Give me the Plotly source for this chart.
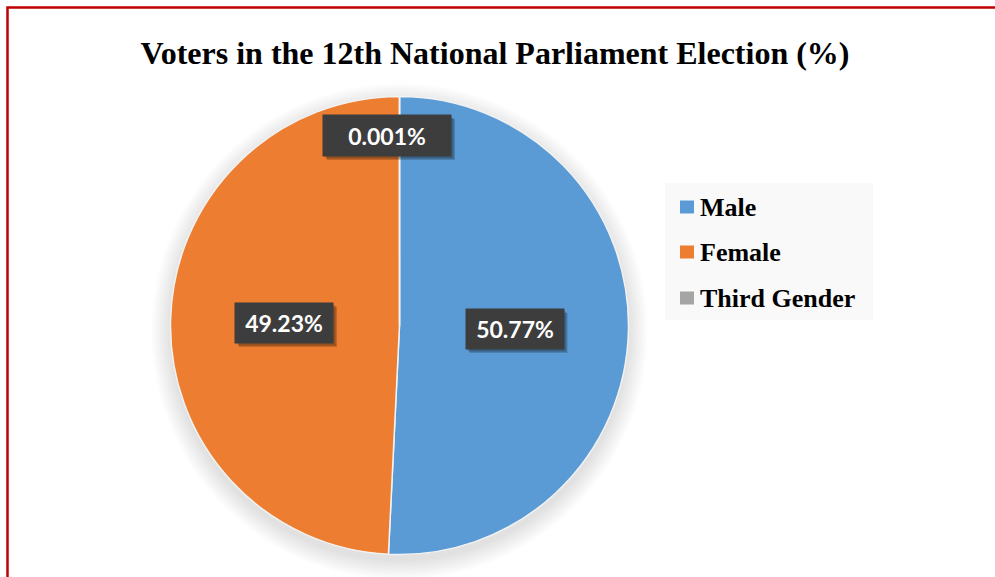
import plotly.graph_objects as go

# Voter shares by gender, 12th National Parliament Election
categories = ["Male", "Female", "Third Gender"]
shares = [50.77, 49.23, 0.001]
colors = ["#5B9BD5", "#ED7D31", "#A5A5A5"]

W, H = 995, 577


def fx(px):
    return px / W


def fy(py):
    return 1 - py / H


# pie geometry (pixels)
cx, cy, R = 399.5, 325.5, 229

fig = go.Figure()
fig.add_trace(go.Pie(
    labels=categories,
    values=shares,
    sort=False,
    direction="clockwise",
    rotation=0,
    marker=dict(colors=colors, line=dict(color="#F2F2F2", width=1.5)),
    textinfo="none",
    hovertemplate="%{label}: %{value}%<extra></extra>",
    domain=dict(x=[fx(cx - R), fx(cx + R)], y=[fy(cy + R), fy(cy - R)]),
    showlegend=False,
))

shapes = []
# soft shadow around the pie, heavier towards the bottom
for i in range(10):
    r = R + 1 + i * 2
    shapes.append(dict(
        type="circle", xref="paper", yref="paper", layer="below",
        x0=fx(cx - r), x1=fx(cx + r), y0=fy(cy + 6 + r), y1=fy(cy + 6 - r),
        fillcolor="rgba(0,0,0,0.010)", line=dict(width=0),
    ))

# outer frame
shapes.append(dict(
    type="rect", xref="paper", yref="paper",
    x0=fx(7.5), y0=-0.05, x1=1.05, y1=fy(7.5),
    line=dict(color="#C00000", width=2.5), fillcolor="rgba(0,0,0,0)",
))

# legend panel
shapes.append(dict(
    type="rect", xref="paper", yref="paper", layer="below",
    x0=fx(665), x1=fx(873), y0=fy(320), y1=fy(183),
    fillcolor="#F9F9F9", line=dict(width=0),
))
legend_rows = [207, 252, 298]
annotations = []
for name, col, ry in zip(categories, colors, legend_rows):
    shapes.append(dict(
        type="rect", xref="paper", yref="paper",
        x0=fx(680), x1=fx(694), y0=fy(ry + 6.5), y1=fy(ry - 6.5),
        fillcolor=col, line=dict(width=0),
    ))
    annotations.append(dict(
        xref="paper", yref="paper", x=fx(698), y=fy(ry),
        xanchor="left", yanchor="middle", showarrow=False,
        text="<b>%s</b>" % name,
        font=dict(family="Liberation Serif", size=26, color="#000000"),
    ))

# data labels: centre (px), box width, box height
label_boxes = [(514.5, 329, 98, 40), (284, 323, 98, 40), (387, 135.5, 128, 41)]
for v, (lx, ly, bw, bh) in zip(shares, label_boxes):
    # drop shadow under each label box
    for k, a in enumerate([0.10, 0.14, 0.18]):
        d = 1 + k
        shapes.append(dict(
            type="rect", xref="paper", yref="paper",
            x0=fx(lx - bw / 2 + 1 + d), x1=fx(lx + bw / 2 + 1 + d),
            y0=fy(ly + bh / 2 + 1 + d), y1=fy(ly - bh / 2 + 1 + d),
            fillcolor="rgba(0,0,0,%.2f)" % a, line=dict(width=0),
        ))
    annotations.append(dict(
        xref="paper", yref="paper", x=fx(lx), y=fy(ly),
        xanchor="center", yanchor="middle", showarrow=False,
        width=bw, height=bh, borderpad=0,
        text="<b>%s%%</b>" % format(v, "g"),
        bgcolor="#3D3D3D",
        font=dict(family="Lato", size=23, color="#FFFFFF"),
    ))

fig.update_layout(
    width=W, height=H,
    margin=dict(l=0, r=0, t=0, b=0),
    paper_bgcolor="#FFFFFF",
    plot_bgcolor="#FFFFFF",
    title=dict(
        text="<b>Voters in the 12th National Parliament Election (%)</b>",
        x=fx(495), y=fy(53), xanchor="center", yanchor="middle",
        font=dict(family="Liberation Serif", size=32, color="#000000"),
    ),
    shapes=shapes,
    annotations=annotations,
)

fig.write_html("out.html")
